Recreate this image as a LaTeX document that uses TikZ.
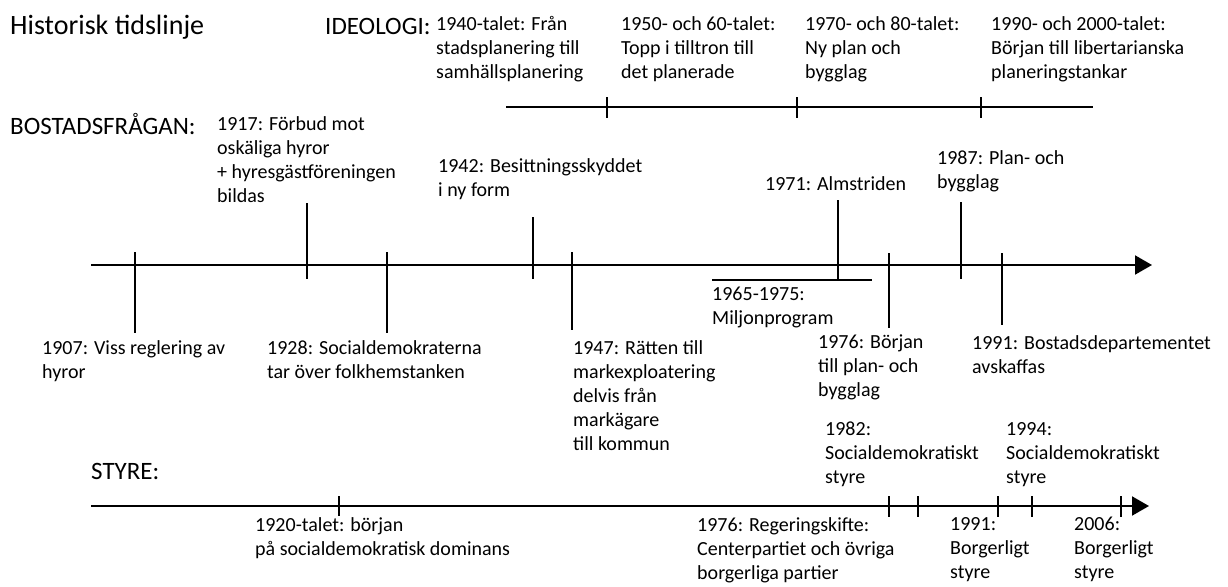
\documentclass[tikz,border=0pt]{standalone}
\usepackage{fontspec}
\setmainfont{Carlito}
\usetikzlibrary{arrows.meta}

\begin{document}
\begin{tikzpicture}[x=1pt, y=-1pt]
        % Define styles
        \tikzset{
            heading/.style={font=\fontsize{25}{30}\selectfont, anchor=base west, inner sep=0pt},
            event/.style={font=\fontsize{20}{24}\selectfont, align=left, anchor=north west, inner sep=0pt, execute at begin node=\strut},
            timeline/.style={line width=2pt},
            axis/.style={timeline, -{Triangle[length=17pt, width=19pt]}},
            tick/.style={line width=1.8pt},
        }
        \useasboundingbox (0,0) rectangle (1228,586);

        % Headings
        \node [heading, font=\fontsize{28}{32}\selectfont] (title) at (10,35) {Historisk tidslinje};
        \node [heading] (ideologi) at (325,35) {IDEOLOGI:};
        \node [heading] (bostad) at (10,134) {BOSTADSFRÅGAN:};
        \node [heading] (styre) at (91,479) {STYRE:};

        % Time axes
        \coordinate (ideoStart) at (506,107);
        \coordinate (ideoEnd) at (1093,107);
        \coordinate (mainStart) at (91,265);
        \coordinate (mainEnd) at (1152,265);
        \coordinate (styreStart) at (91,506);
        \coordinate (styreEnd) at (1149,506);
        \draw [timeline] (ideoStart) -- (ideoEnd);
        \draw [axis] (mainStart) -- (mainEnd);
        \draw [axis] (styreStart) -- (styreEnd);
        \draw [timeline] (712,280) -- (872,280);

        % Ticks
        \draw [tick] (607,97) -- (607,118);
        \draw [tick] (797,97) -- (797,118);
        \draw [tick] (981,97) -- (981,118);

        \draw [tick] (135,252) -- (135,333);
        \draw [tick] (307,203) -- (307,279);
        \draw [tick] (387,252) -- (387,333);
        \draw [tick] (533,217) -- (533,279);
        \draw [tick] (572,252) -- (572,330);
        \draw [tick] (838,200) -- (838,280);
        \draw [tick] (889,253) -- (889,328);
        \draw [tick] (961,202) -- (961,279);
        \draw [tick] (1002,253) -- (1002,325);

        \draw [tick] (339,496) -- (339,516);
        \draw [tick] (889,496) -- (889,517);
        \draw [tick] (918,496) -- (918,517);
        \draw [tick] (998,496) -- (998,517);
        \draw [tick] (1032,496) -- (1032,517);
        \draw [tick] (1121,496) -- (1121,517);

        % Ideology
        \node [event] (ideo1940) at (436,16) {1940-talet: Från\\stadsplanering till\\samhällsplanering};
        \node [event] (ideo1950) at (621,16) {1950- och 60-talet:\\Topp i tilltron till\\det planerade};
        \node [event] (ideo1970) at (805,16) {1970- och 80-talet:\\Ny plan och\\bygglag};
        \node [event] (ideo1990) at (991,16) {1990- och 2000-talet:\\Början till libertarianska\\planeringstankar};

        % Housing question
        \node [event] (bo1917) at (217,116) {1917: Förbud mot\\oskäliga hyror\\+ hyresgästföreningen\\bildas};
        \node [event] (bo1942) at (438,158) {1942: Besittningsskyddet\\i ny form};
        \node [event] (bo1971) at (765,173) {1971: Almstriden};
        \node [event] (bo1987) at (937,150) {1987: Plan- och\\bygglag};
        \node [event] (bo1907) at (42,340) {1907: Viss reglering av\\hyror};
        \node [event] (bo1928) at (267,340) {1928: Socialdemokraterna\\tar över folkhemstanken};
        \node [event] (bo1947) at (573,340) {1947: Rätten till\\markexploatering\\delvis från\\markägare\\till kommun};
        \node [event] (bo1965) at (712,287) {1965-1975:\\Miljonprogram};
        \node [event] (bo1976) at (818,335) {1976: Början\\till plan- och\\bygglag};
        \node [event] (bo1991) at (972,335) {1991: Bostadsdepartementet\\avskaffas};

        % Government
        \node [event] (st1982) at (825,422) {1982:\\Socialdemokratiskt\\styre};
        \node [event] (st1994) at (1006,422) {1994:\\Socialdemokratiskt\\styre};
        \node [event] (st1920) at (255,517) {1920-talet: början\\på socialdemokratisk dominans};
        \node [event] (st1976) at (697,517) {1976: Regeringskifte:\\Centerpartiet och övriga\\borgerliga partier};
        \node [event] (st1991) at (950,517) {1991:\\Borgerligt\\styre};
        \node [event] (st2006) at (1074,517) {2006:\\Borgerligt\\styre};

    \end{tikzpicture}
\end{document}
